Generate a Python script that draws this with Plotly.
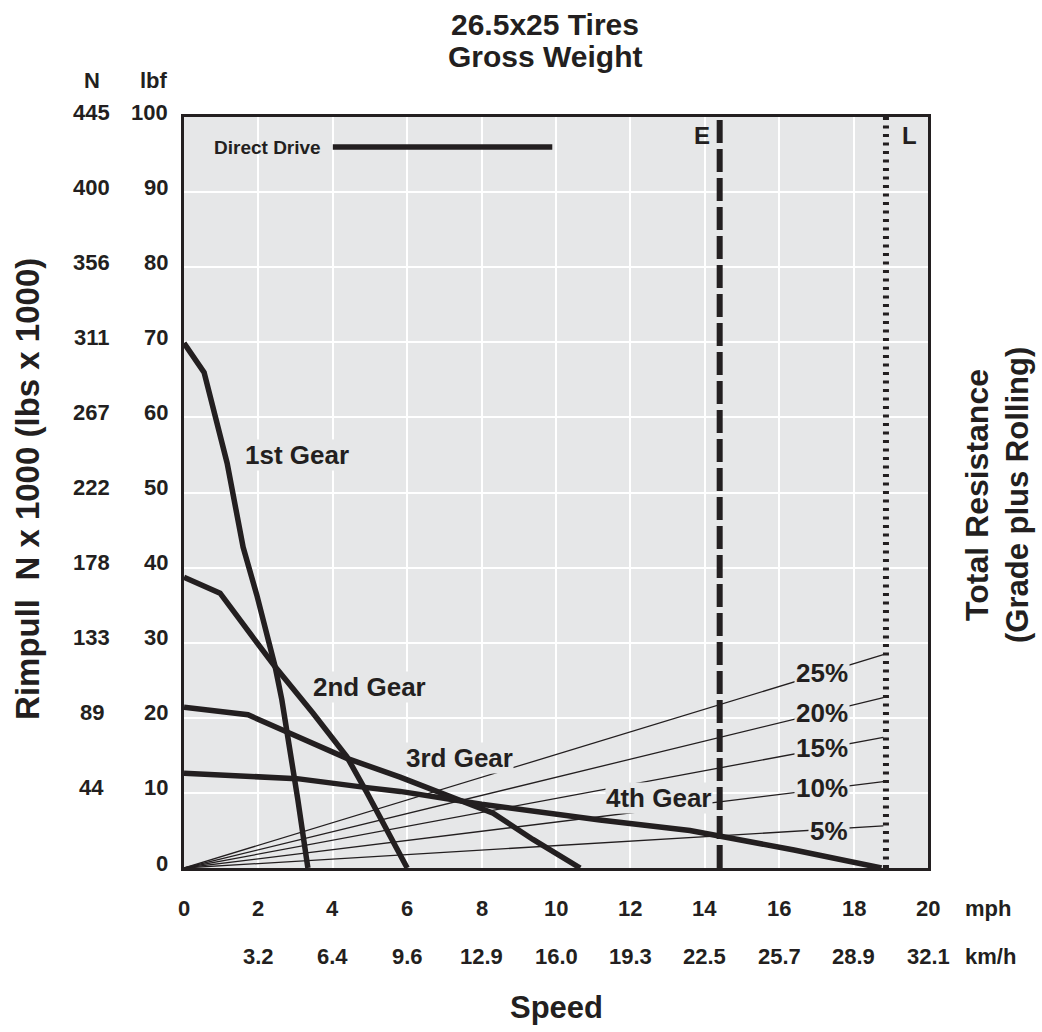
import plotly.graph_objects as go

# ---------------- data ----------------
mph_ticks = [0, 2, 4, 6, 8, 10, 12, 14, 16, 18, 20]
kmh_labels = ["3.2", "6.4", "9.6", "12.9", "16.0", "19.3", "22.5", "25.7", "28.9", "32.1"]
lbf_ticks = [0, 10, 20, 30, 40, 50, 60, 70, 80, 90, 100]
n_labels = ["44", "89", "133", "178", "222", "267", "311", "356", "400", "445"]

gear1_mph = [0, 0.54, 1.16, 1.59, 1.96, 2.45, 2.63, 2.85, 3.06, 3.33]
gear1_klbf = [69.9, 66.0, 53.9, 42.7, 36.3, 26.8, 22.4, 16.1, 9.1, 0]

gear2_mph = [0, 0.97, 1.96, 2.45, 3.47, 4.38, 4.92, 5.46, 6.0]
gear2_klbf = [38.7, 36.6, 30.0, 26.8, 20.6, 14.8, 10.0, 5.1, 0]

gear3_mph = [0, 1.72, 2.77, 4.38, 5.81, 7.34, 8.31, 9.38, 10.65]
gear3_klbf = [21.4, 20.4, 18.1, 14.6, 12.1, 9.1, 7.3, 3.8, 0]

gear4_mph = [0, 3.04, 4.92, 5.81, 8.0, 11.18, 13.6, 14.4, 16.4, 18.75]
gear4_klbf = [12.6, 11.9, 10.7, 10.2, 8.5, 6.4, 5.0, 4.3, 2.4, 0]

direct_drive_mph = [4.0, 9.9]
direct_drive_klbf = [96.0, 96.0]

grade_labels = ["5%", "10%", "15%", "20%", "25%"]
grade_end_mph = 18.8
grade_end_klbf = [5.6, 11.5, 17.4, 22.7, 28.4]
grade_label_mph = 17.9
grade_label_klbf = [4.9, 10.6, 16.0, 20.6, 26.0]

e_mph = 14.4
l_mph = 18.87

gear_labels = ["1st Gear", "2nd Gear", "3rd Gear", "4th Gear"]
gear_label_mph = [1.61, 3.44, 5.94, 11.32]
gear_label_klbf = [55.0, 24.1, 14.6, 9.3]

# ---------------- style ----------------
INK = "#231f20"
BG = "#e6e7e8"
SANS = "Liberation Sans, Arial, sans-serif"


def bfont(size):
    return dict(family=SANS, size=size, color=INK, weight="bold")


fig = go.Figure()

for v in grade_end_klbf:
    fig.add_trace(go.Scatter(x=[0, grade_end_mph], y=[0, v], mode="lines",
                             line=dict(color=INK, width=1.3), hoverinfo="skip"))

for xs, ys in [(gear1_mph, gear1_klbf), (gear2_mph, gear2_klbf),
               (gear3_mph, gear3_klbf), (gear4_mph, gear4_klbf)]:
    fig.add_trace(go.Scatter(x=xs, y=ys, mode="lines",
                             line=dict(color=INK, width=5.5), hoverinfo="skip"))

fig.add_trace(go.Scatter(x=direct_drive_mph, y=direct_drive_klbf, mode="lines",
                         line=dict(color=INK, width=5.5), hoverinfo="skip"))

fig.add_trace(go.Scatter(x=[e_mph, e_mph], y=[0, 100], mode="lines",
                         line=dict(color=INK, width=6, dash="23px,6px"), hoverinfo="skip"))
fig.add_trace(go.Scatter(x=[l_mph, l_mph], y=[0, 100], mode="lines",
                         line=dict(color=INK, width=6, dash="3px,5.5px"), hoverinfo="skip"))

ann = []
for t, x, y in zip(gear_labels, gear_label_mph, gear_label_klbf):
    ann.append(dict(x=x, y=y, xref="x", yref="y", text=t, showarrow=False,
                    xanchor="left", yanchor="middle", bgcolor=BG, borderpad=0,
                    font=bfont(26)))
for t, y in zip(grade_labels, grade_label_klbf):
    ann.append(dict(x=grade_label_mph, y=y, xref="x", yref="y", text=t, showarrow=False,
                    xanchor="right", yanchor="middle", bgcolor=BG, borderpad=1,
                    font=bfont(26)))
ann.append(dict(x=direct_drive_mph[0] - 0.26, y=direct_drive_klbf[0], xref="x", yref="y",
                text="Direct Drive", showarrow=False, xanchor="right", yanchor="middle",
                font=bfont(19)))
ann.append(dict(x=e_mph - 0.22, y=97.5, xref="x", yref="y", text="E", showarrow=False,
                xanchor="right", yanchor="middle", font=bfont(24)))
ann.append(dict(x=l_mph + 0.38, y=97.5, xref="x", yref="y", text="L", showarrow=False,
                xanchor="left", yanchor="middle", font=bfont(24)))

tick_font = bfont(22)
for v in lbf_ticks:
    ann.append(dict(x=-0.0188, y=v, xref="paper", yref="y", text=str(v), showarrow=False,
                    xanchor="right", yanchor="middle", yshift=5, font=tick_font))
for v, t in zip(lbf_ticks[1:], n_labels):
    ann.append(dict(x=-0.1237, y=v, xref="paper", yref="y", text=t, showarrow=False,
                    xanchor="center", yanchor="middle", yshift=5, font=tick_font))
ann.append(dict(x=-0.1237, y=1.049, xref="paper", yref="paper", text="N", showarrow=False,
                xanchor="center", yanchor="middle", font=tick_font))
ann.append(dict(x=-0.0188, y=1.049, xref="paper", yref="paper", text="lbf", showarrow=False,
                xanchor="right", yanchor="middle", font=tick_font))

for v in mph_ticks:
    ann.append(dict(x=v, y=-0.0533, xref="x", yref="paper", text=str(v), showarrow=False,
                    xanchor="center", yanchor="middle", font=tick_font))
for v, t in zip(mph_ticks[1:], kmh_labels):
    ann.append(dict(x=v, y=-0.1185, xref="x", yref="paper", text=t, showarrow=False,
                    xanchor="center", yanchor="middle", font=tick_font))
ann.append(dict(x=1.047, y=-0.0533, xref="paper", yref="paper", text="mph", showarrow=False,
                xanchor="left", yanchor="middle", font=tick_font))
ann.append(dict(x=1.047, y=-0.1185, xref="paper", yref="paper", text="km/h", showarrow=False,
                xanchor="left", yanchor="middle", font=tick_font))

ann.append(dict(x=0.485, y=1.1238, xref="paper", yref="paper", text="26.5x25 Tires",
                showarrow=False, xanchor="center", yanchor="middle", font=bfont(30)))
ann.append(dict(x=0.485, y=1.0812, xref="paper", yref="paper", text="Gross Weight",
                showarrow=False, xanchor="center", yanchor="middle", font=bfont(30)))
ann.append(dict(x=0.5, y=-0.1864, xref="paper", yref="paper", text="Speed",
                showarrow=False, xanchor="center", yanchor="middle", font=bfont(31)))
ann.append(dict(x=-0.2097, y=0.5047, xref="paper", yref="paper",
                text="Rimpull&nbsp;&nbsp;N x 1000 (lbs x 1000)", textangle=-90,
                showarrow=False, xanchor="center", yanchor="middle", font=bfont(33)))
ann.append(dict(x=1.0658, y=0.4967, xref="paper", yref="paper", text="Total Resistance",
                textangle=-90, showarrow=False, xanchor="center", yanchor="middle",
                font=bfont(32)))
ann.append(dict(x=1.1210, y=0.4967, xref="paper", yref="paper", text="(Grade plus Rolling)",
                textangle=-90, showarrow=False, xanchor="center", yanchor="middle",
                font=bfont(31)))

axis_common = dict(showgrid=True, gridcolor="white", gridwidth=1.5, zeroline=False,
                   showline=True, linecolor=INK, linewidth=3, mirror=True,
                   showticklabels=False, ticks="", fixedrange=True)

fig.update_layout(
    width=1042, height=1032,
    margin=dict(l=184, r=114, t=117, b=164),
    paper_bgcolor="white", plot_bgcolor=BG,
    showlegend=False,
    xaxis=dict(range=[0, 20], tickvals=mph_ticks, **axis_common),
    yaxis=dict(range=[0, 100], tickvals=lbf_ticks, **axis_common),
    annotations=ann,
)

fig.write_html("out.html", config={"displayModeBar": False},
               post_script="document.body.style.margin='0px';")
